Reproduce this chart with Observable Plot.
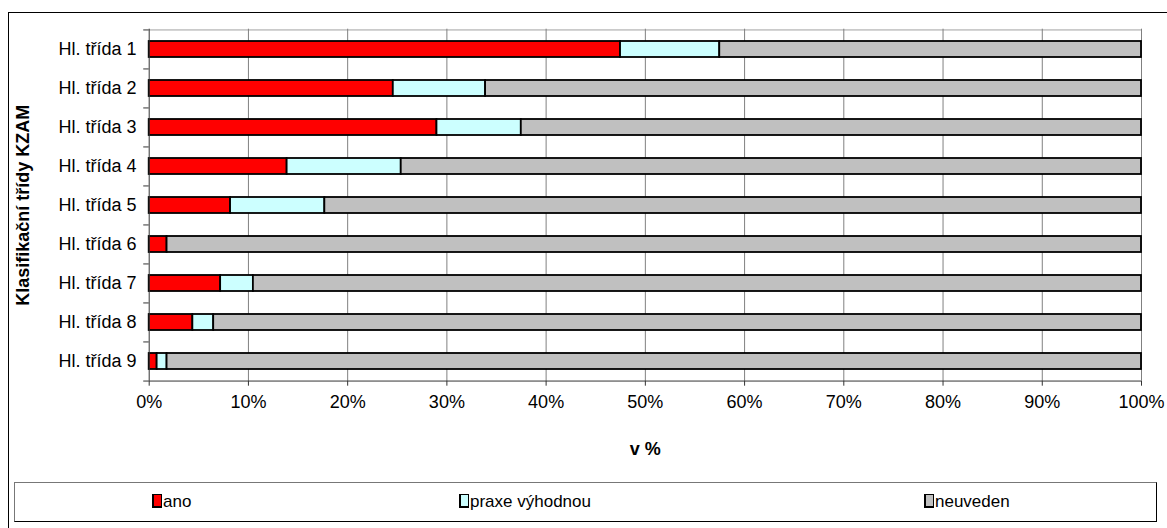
<!DOCTYPE html>
<html>
<head>
<meta charset="utf-8">
<script src="https://cdn.jsdelivr.net/npm/d3@7"></script>
<script src="https://cdn.jsdelivr.net/npm/@observablehq/plot@0.6"></script>
<style>
  html, body { margin: 0; padding: 0; background: #fff; overflow: hidden; }
  body { width: 1167px; height: 528px; position: relative; font-family: "Liberation Sans", Arial, sans-serif; }
  #frame { position: absolute; left: 8px; top: 12px; width: 1180px; height: 540px; border: 1px solid #000; box-sizing: border-box; }
  #chart { position: absolute; left: 0; top: 0; }
  #legend { position: absolute; left: 14px; top: 482px; width: 1143px; height: 40px; box-sizing: border-box;
            border-top: 1px solid #777; border-left: 1px solid #777; border-right: 1px solid #000; border-bottom: 1px solid #000; background: #fff; }
  .item { position: absolute; top: 10px; font-size: 17px; line-height: 18px; color: #000; white-space: nowrap; }
  .sw { display: inline-block; width: 7px; height: 11px; border: 1px solid #000; border-left-width: 2px; border-bottom-width: 2px; vertical-align: -1px; margin-right: 1px; }
</style>
</head>
<body>
<div id="frame"></div>
<div id="chart"></div>
<div id="legend"></div>
<script>
// Categories (main classes of the KZAM classification)
const categories = ["Hl. třída 1", "Hl. třída 2", "Hl. třída 3", "Hl. třída 4", "Hl. třída 5",
                    "Hl. třída 6", "Hl. třída 7", "Hl. třída 8", "Hl. třída 9"];
// Series names and colours
const seriesNames = ["ano", "praxe výhodnou", "neuveden"];
const seriesColors = ["#ff0000", "#ccffff", "#c0c0c0"];
// Shares in percent
const ano      = [47.5, 24.6, 29.0, 13.9,  8.2,  1.8,  7.2,  4.4,  0.8];
const praxe    = [10.0,  9.3,  8.5, 11.5,  9.5,  0.0,  3.3,  2.1,  1.0];
const neuveden = [42.5, 66.1, 62.5, 74.6, 82.3, 98.2, 89.5, 93.5, 98.2];
// x-axis ticks
const xTicks = [0, 10, 20, 30, 40, 50, 60, 70, 80, 90, 100];

const seriesValues = [ano, praxe, neuveden];
const rows = [];
categories.forEach((c, i) => {
  seriesNames.forEach((s, j) => {
    if (seriesValues[j][i] > 0) rows.push({category: c, series: s, value: seriesValues[j][i]});
  });
});

const W = 1167, H = 470;
const mL = 148.7, mR = 26, mT = 28.7, mB = H - 380.7;
const step = (H - mT - mB) / categories.length;
const last = categories[categories.length - 1];

const chart = Plot.plot({
  width: W,
  height: H,
  marginLeft: mL,
  marginRight: mR,
  marginTop: mT,
  marginBottom: mB,
  style: {fontFamily: "'Liberation Sans', Arial, sans-serif", fontSize: "18px", color: "#000", background: "transparent", overflow: "visible"},
  x: {domain: [0, 100], label: null},
  y: {domain: categories, paddingInner: 0.59, paddingOuter: 0.295, label: null},
  color: {domain: seriesNames, range: seriesColors},
  marks: [
    // plot-area top border and vertical gridlines
    Plot.ruleY([categories[0]], {dy: -step / 2, stroke: "#a0a0a0", strokeWidth: 1}),
    Plot.ruleX(xTicks.filter(d => d > 0), {stroke: "#808080", strokeWidth: 1}),
    // stacked bars
    Plot.barX(rows, {x: "value", y: "category", fill: "series", stroke: "#000", strokeWidth: 1.8, order: seriesNames}),
    // axis lines
    Plot.ruleX([0], {stroke: "#333", strokeWidth: 1}),
    Plot.ruleY([last], {dy: step / 2, stroke: "#333", strokeWidth: 1}),
    // y ticks at band boundaries
    Plot.ruleY(categories, {x1: -0.55, x2: 0, dy: -step / 2, stroke: "#333", strokeWidth: 1}),
    Plot.ruleY([last], {x1: -0.55, x2: 0, dy: step / 2, stroke: "#333", strokeWidth: 1}),
    // y tick labels
    Plot.axisY({tickSize: 0, tickPadding: 12.7, fontSize: 18, fill: "#000", label: null}),
    // x ticks and labels
    Plot.axisX({ticks: xTicks, tickFormat: d => d + "%", tickSize: 5, tickPadding: 9, stroke: "#333", fontSize: 18, fill: "#000", label: null}),
    // axis titles
    Plot.text(["v %"], {frameAnchor: "bottom", dy: 74, fontWeight: "bold", fontSize: 18, fill: "#000"}),
    Plot.text(["Klasifikační třídy KZAM"], {frameAnchor: "left", textAnchor: "middle", dx: -126, rotate: -90, fontWeight: "bold", fontSize: 18, fill: "#000"})
  ]
});

document.getElementById("chart").appendChild(chart);

// legend
const legendPos = [137, 444, 909];
const legend = document.getElementById("legend");
seriesNames.forEach((s, i) => {
  const item = document.createElement("div");
  item.className = "item";
  item.style.left = legendPos[i] + "px";
  const sw = document.createElement("span");
  sw.className = "sw";
  sw.style.background = seriesColors[i];
  item.appendChild(sw);
  item.appendChild(document.createTextNode(s));
  legend.appendChild(item);
});
</script>
</body>
</html>
